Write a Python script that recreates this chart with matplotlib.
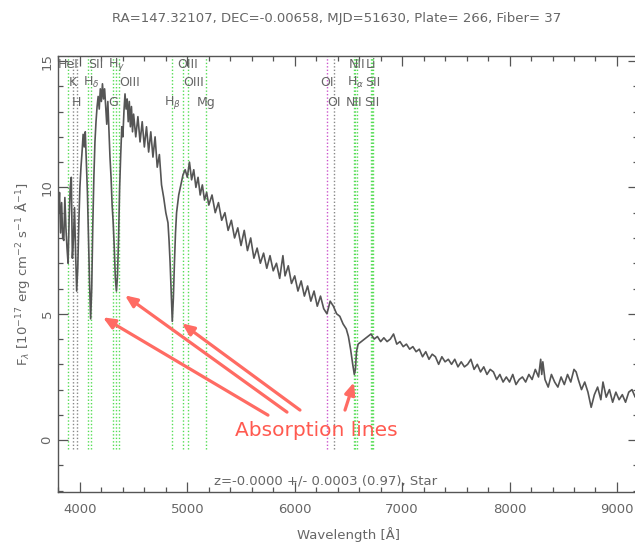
import numpy as np
import matplotlib
matplotlib.use('Agg')
import matplotlib.pyplot as plt
from matplotlib.ticker import MultipleLocator

# spectrum (wavelength in A, flux in 1e-17 erg/cm2/s/A)
wave = [3800, 3810, 3820, 3830, 3840, 3850, 3860, 3870, 3880, 3890,
        3900, 3910, 3920, 3930, 3940, 3950, 3960, 3970, 3980, 3990,
        4000, 4010, 4020, 4030, 4040, 4050, 4060, 4070, 4080, 4090,
        4100, 4110, 4120, 4130, 4140, 4150, 4160, 4170, 4180, 4190,
        4200, 4210, 4220, 4230, 4240, 4250, 4260, 4270, 4280, 4290,
        4300, 4310, 4320, 4330, 4340, 4350, 4360, 4370, 4380, 4390,
        4400, 4410, 4420, 4430, 4440, 4450, 4460, 4470, 4480, 4490,
        4500, 4520, 4540, 4560, 4580, 4600, 4620, 4640, 4660, 4680,
        4700, 4720, 4740, 4760, 4780, 4800, 4820, 4830, 4840, 4850,
        4860, 4870, 4880, 4890, 4900, 4920, 4940, 4960, 4980, 5000,
        5020, 5040, 5060, 5080, 5100, 5120, 5140, 5160, 5180, 5200,
        5230, 5260, 5290, 5320, 5350, 5380, 5410, 5440, 5470, 5500,
        5530, 5560, 5590, 5620, 5650, 5680, 5710, 5740, 5770, 5800,
        5830, 5860, 5890, 5910, 5940, 5970, 6000, 6030, 6060, 6090,
        6120, 6150, 6180, 6210, 6240, 6270, 6300, 6330, 6360, 6390,
        6420, 6450, 6480, 6500, 6520, 6540, 6555, 6565, 6575, 6590,
        6620, 6650, 6680, 6710, 6740, 6770, 6800, 6830, 6860, 6890,
        6920, 6950, 6980, 7010, 7040, 7070, 7100, 7130, 7160, 7190,
        7220, 7250, 7280, 7310, 7340, 7370, 7400, 7430, 7460, 7490,
        7520, 7550, 7580, 7610, 7640, 7670, 7700, 7730, 7760, 7790,
        7820, 7850, 7880, 7910, 7940, 7970, 8000, 8030, 8060, 8090,
        8120, 8150, 8180, 8210, 8240, 8270, 8290, 8300, 8310, 8330,
        8360, 8390, 8420, 8450, 8480, 8510, 8540, 8570, 8600, 8620,
        8640, 8670, 8700, 8730, 8760, 8790, 8820, 8850, 8870, 8900,
        8930, 8960, 8990, 9020, 9050, 9080, 9110, 9140, 9170, 9200]
flux = [9.0, 9.8, 8.2, 9.4, 8.0, 7.9, 9.6, 8.4, 7.6, 7.0,
        8.8, 10.0, 10.4, 7.2, 8.0, 9.2, 7.4, 5.9, 6.8, 8.6,
        10.0, 10.8, 11.4, 12.1, 11.6, 12.2, 11.0, 9.8, 8.0, 6.2,
        4.8, 6.0, 8.5, 10.4, 11.8, 12.6, 13.2, 13.6, 13.1, 13.9,
        13.4, 14.1, 13.5, 13.9, 13.2, 12.5, 13.4, 12.3, 11.2, 10.4,
        9.3, 8.6, 7.6, 6.4, 5.9, 6.5, 8.0, 10.0, 11.3, 12.4,
        12.0, 13.0, 13.7, 13.1, 13.5, 12.6, 13.4, 12.4, 13.2, 12.2,
        12.9, 12.0, 12.8, 11.8, 12.6, 11.6, 12.4, 11.4, 12.2, 11.2,
        12.0, 10.8, 11.3, 10.1, 9.6, 9.0, 8.6, 7.9, 7.0, 5.8,
        4.7, 5.6, 7.0, 8.2, 9.0, 9.7, 10.1, 10.5, 10.7, 10.4,
        11.0, 10.3, 10.7, 10.0, 10.4, 9.7, 10.1, 9.5, 9.8, 9.3,
        9.7, 9.0, 9.4, 8.7, 9.0, 8.3, 8.7, 8.0, 8.4, 7.7,
        8.3, 7.5, 8.0, 7.2, 7.6, 7.0, 7.4, 6.8, 7.3, 6.7,
        7.0, 6.4, 7.3, 6.5, 6.9, 6.2, 6.5, 5.9, 6.3, 5.7,
        6.1, 5.5, 5.9, 5.3, 5.7, 5.2, 5.0, 5.5, 5.3, 5.0,
        4.9, 4.6, 4.4, 4.1, 3.6, 3.0, 2.6, 2.8, 3.5, 3.8,
        3.9, 4.0, 4.1, 4.2, 4.0, 4.1, 3.9, 4.05, 3.9, 4.0,
        4.2, 3.8, 3.9, 3.7, 3.8, 3.6, 3.7, 3.5, 3.6, 3.3,
        3.5, 3.2, 3.4, 3.3, 3.0, 3.3, 3.1, 3.2, 3.0, 3.2,
        2.9, 3.1, 2.9, 3.0, 3.2, 2.8, 3.0, 2.7, 2.9, 2.6,
        2.8, 2.7, 2.4, 2.6, 2.3, 2.5, 2.3, 2.6, 2.2, 2.4,
        2.5, 2.3, 2.6, 2.4, 2.8, 2.5, 3.2, 2.6, 3.1, 2.4,
        2.1, 2.6, 2.3, 2.1, 2.5, 2.2, 2.6, 2.3, 2.8, 2.7,
        2.4, 2.0, 2.3, 1.9, 1.3, 1.8, 2.1, 1.6, 2.3, 1.7,
        2.0, 1.5, 1.9, 1.6, 1.8, 1.5, 1.9, 2.0, 1.7, 1.8]

# marked lines: wavelength, label, label row, colour
line_wave = [3889, 4072, 4340, 5007, 6583, 6707,
             3934, 4102, 4363, 4959, 6300, 6563, 6731,
             3969, 4305, 4861, 5175, 6363, 6548, 6716]
line_name = ['HeI', 'SII', r'H$_\gamma$', 'OIII', 'NII', 'Li',
             'K', r'H$_\delta$', 'OIII', 'OIII', 'OI', r'H$_\alpha$', 'SII',
             'H', 'G', r'H$_\beta$', 'Mg', 'OI', 'NII', 'SII']
line_row = [0, 0, 0, 0, 0, 0,
            1, 1, 1, 1, 1, 1, 1,
            2, 2, 2, 2, 2, 2, 2]
line_color = ['#55dd55', '#55dd55', '#55dd55', '#55dd55', '#55dd55', '#55dd55',
              '#888888', '#55dd55', '#55dd55', '#55dd55', '#cc55cc', '#55dd55', '#55dd55',
              '#888888', '#55dd55', '#55dd55', '#55dd55', '#888888', '#55dd55', '#55dd55']
left_aligned = ['SII_4072', 'OIII_4363', 'OIII_4959']

# arrows: tail (wave, flux) -> head (wave, flux)
arrow_tail = [(5751, 0.99), (5928, 1.11), (6049, 1.19), (6468, 1.19)]
arrow_head = [(4214, 4.86), (4419, 5.73), (4950, 4.62), (6551, 2.29)]

txtc = '#666666'
fig = plt.figure(figsize=(6.35, 5.42), dpi=100)
ax = fig.add_axes([0.092, 0.0923, 0.9134, 0.8044])

ax.vlines(line_wave, -0.35, 15.3, colors=line_color, linestyles=(0, (1, 1.5)), lw=1.0, zorder=1)
ax.plot(wave, flux, color='#555555', lw=1.2, zorder=2)

row_y = [14.85, 14.15, 13.35]
for w, n, r in zip(line_wave, line_name, line_row):
    key = n + '_' + str(w)
    ha = 'left' if key in left_aligned else 'center'
    ax.text(w, row_y[r], n, ha=ha, va='center', fontsize=9, color=txtc, zorder=3)

for t, h in zip(arrow_tail, arrow_head):
    ax.annotate('', xy=h, xytext=t,
                arrowprops=dict(arrowstyle='-|>,head_length=0.7,head_width=0.3',
                                color='#ff6b63', lw=2.3, shrinkA=0, shrinkB=0), zorder=4)
ax.text(6198, 0.4, 'Absorption lines', color='#ff5a50', fontsize=14.5,
        ha='center', va='center', zorder=4)

ax.text(6290, -1.6, 'z=-0.0000 +/- 0.0003 (0.97), Star', color=txtc,
        fontsize=9.5, ha='center', va='center')

ax.set_xlim(3800, 9200)
ax.set_ylim(-2.05, 15.2)
ax.xaxis.set_major_locator(MultipleLocator(1000))
ax.xaxis.set_minor_locator(MultipleLocator(200))
ax.yaxis.set_major_locator(MultipleLocator(5))
ax.yaxis.set_minor_locator(MultipleLocator(1))
ax.tick_params(which='both', direction='in', top=True, right=True,
               colors='#555555', labelcolor=txtc, labelsize=9.5)
ax.tick_params(which='major', length=7, width=0.9)
ax.tick_params(which='minor', length=3.5, width=0.9)
ax.tick_params(axis='x', pad=8)
for lab in ax.get_yticklabels():
    lab.set_rotation(90)
    lab.set_va('center')
for s in ax.spines.values():
    s.set_color('#555555')
    s.set_linewidth(1.0)

ax.set_xlabel('Wavelength [Å]', color=txtc, fontsize=9.5, labelpad=8)
ax.set_ylabel(r'F$_\lambda$ [10$^{-17}$ erg cm$^{-2}$ s$^{-1}$ Å$^{-1}$]',
              color=txtc, fontsize=9.5, labelpad=6)
fig.text(0.53, 0.966, 'RA=147.32107, DEC=-0.00658, MJD=51630, Plate= 266, Fiber= 37',
         ha='center', va='center', color=txtc, fontsize=9.5)

fig.savefig('out.png', dpi=100)
